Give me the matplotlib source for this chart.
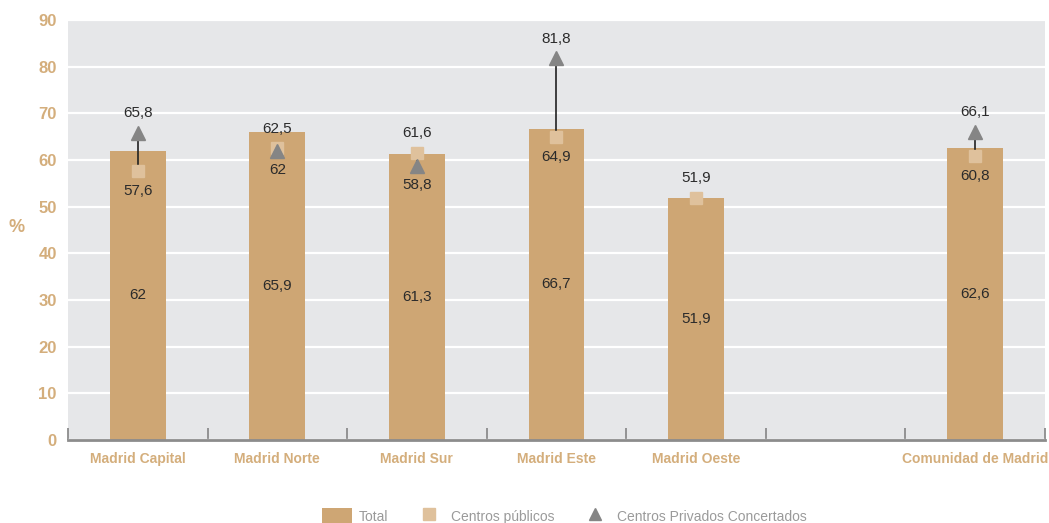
import matplotlib
matplotlib.use("Agg")
import matplotlib.pyplot as plt
import numpy as np
from matplotlib.patches import Patch
from matplotlib.lines import Line2D
from matplotlib.ticker import FixedLocator

plt.rcParams['font.family'] = ['Liberation Sans', 'DejaVu Sans']

categories = ['Madrid Capital', 'Madrid Norte', 'Madrid Sur', 'Madrid Este',
              'Madrid Oeste', '', 'Comunidad de Madrid']
total = [62.0, 65.9, 61.3, 66.7, 51.9, np.nan, 62.6]
publicos = [57.6, 62.5, 61.6, 64.9, 51.9, np.nan, 60.8]
privados = [65.8, 62.0, 58.8, 81.8, np.nan, np.nan, 66.1]

TAN = '#cea674'
LIGHT = '#dfc19c'
GRAY_TRI = '#858585'
LABEL_TAN = '#d4ae7c'
BG = '#e6e7e9'


def fmt(v):
    return ('%.1f' % v).replace('.', ',').replace(',0', '')


fig = plt.figure(figsize=(10.49, 5.23), dpi=100)
ax = fig.add_axes([0.0648, 0.1587, 0.9314, 0.8031])
ax.set_facecolor(BG)

x = np.arange(len(categories))
ax.set_xlim(-0.5, len(categories) - 0.5)
ax.set_ylim(0, 90)
ax.set_yticks(np.arange(0, 91, 10))
ax.grid(axis='y', color='white', lw=1.6)
ax.set_axisbelow(True)

ax.bar(x, total, width=0.4, color=TAN, zorder=2)

for i in range(len(categories)):
    t, p, r = total[i], publicos[i], privados[i]
    if np.isnan(t):
        continue
    ax.text(x[i], t / 2, fmt(t), ha='center', va='center', fontsize=11,
            color='#2b2b2b', zorder=5)
    if not np.isnan(r):
        ax.plot([x[i], x[i]], [p, r], color='#222222', lw=1.2, zorder=3)
    ax.plot(x[i], p, marker='s', ms=8, color=LIGHT, ls='none', zorder=4)
    if not np.isnan(r):
        ax.plot(x[i], r, marker='^', ms=9.5, color=GRAY_TRI, ls='none', zorder=4)
    # higher value labelled above, lower below
    if np.isnan(r) or p >= r:
        hi, lo = p, r
    else:
        hi, lo = r, p
    ax.annotate(fmt(hi), (x[i], hi), xytext=(0, 9), textcoords='offset points',
                ha='center', va='bottom', fontsize=11, color='#2b2b2b', zorder=5)
    if not np.isnan(lo):
        ax.annotate(fmt(lo), (x[i], lo), xytext=(0, -9), textcoords='offset points',
                    ha='center', va='top', fontsize=11, color='#2b2b2b', zorder=5)

ax.set_xticks(x)
ax.set_xticklabels(categories, fontsize=10, fontweight='bold', color=LABEL_TAN)
ax.xaxis.set_minor_locator(FixedLocator(np.arange(-0.5, len(categories), 1.0)))
ax.tick_params(axis='x', which='major', length=0, pad=9)
ax.tick_params(axis='x', which='minor', direction='in', length=9, width=1.3,
               color='#8c8c8c')
ax.tick_params(axis='y', length=0, pad=8, labelsize=12, labelcolor=LABEL_TAN)
for lab in ax.get_yticklabels():
    lab.set_fontweight('bold')

for s in ['left', 'right', 'top']:
    ax.spines[s].set_visible(False)
ax.spines['bottom'].set_color('#8c8c8c')
ax.spines['bottom'].set_linewidth(2)

fig.text(0.016, 0.565, '%', fontsize=13, fontweight='bold', color=LABEL_TAN,
         ha='center', va='center')

handles = [Patch(facecolor=TAN, edgecolor='none'),
           Line2D([], [], marker='s', ms=8, color=LIGHT, ls='none'),
           Line2D([], [], marker='^', ms=9, color=GRAY_TRI, ls='none')]
fig.legend(handles, ['Total', 'Centros públicos', 'Centros Privados Concertados'],
           loc='lower center', bbox_to_anchor=(0.538, -0.025), ncol=3, frameon=False,
           fontsize=10, labelcolor='#9a9a9a', handlelength=2.2, handleheight=1.3,
           columnspacing=1.8, handletextpad=0.5)

fig.savefig('out.png', dpi=100)
